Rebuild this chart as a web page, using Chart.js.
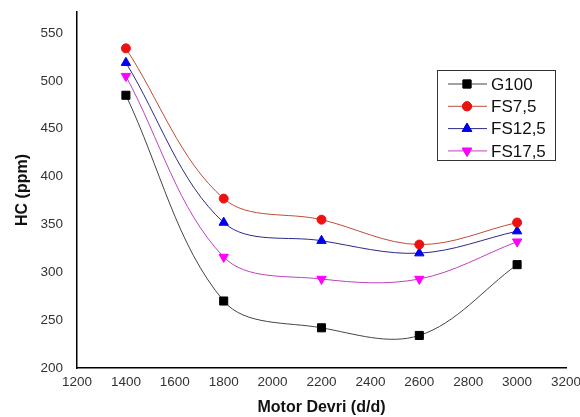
<!DOCTYPE html>
<html>
<head>
<meta charset="utf-8">
<script src="https://cdn.jsdelivr.net/npm/chart.js@4/dist/chart.umd.min.js"></script>
<style>
  html, body { margin: 0; padding: 0; background: #fff; }
</style>
</head>
<body>
<canvas id="hcChart" width="580" height="417"></canvas>
<script>
// motor devri (d/d)
const rpm = [1400, 1800, 2200, 2600, 3000];

// HC (ppm) per fuel
const g100 = [485, 270, 242, 234, 308];
const fs75 = [534, 377, 355, 329, 352];
const fs125 = [519, 352, 333, 320, 343];
const fs175 = [505, 316, 293, 293, 332];

const seriesNames = ['G100', 'FS7,5', 'FS12,5', 'FS17,5'];

const toPts = vals => vals.map((v, i) => ({ x: rpm[i], y: v }));

const fontFam = '"Liberation Sans", Arial, sans-serif';

// legend drawn as a boxed panel inside the plot
const boxLegend = {
    id: 'boxLegend',
    afterDraw(chart) {
        const ctx = chart.ctx;
        const x0 = 437, y0 = 70, w = 118, h = 90;
        ctx.save();
        ctx.fillStyle = '#fff';
        ctx.fillRect(x0, y0, w, h);
        ctx.strokeStyle = '#333';
        ctx.lineWidth = 1;
        ctx.strokeRect(x0 + 0.5, y0 + 0.5, w, h);
        chart.data.datasets.forEach((ds, i) => {
            const cy = 84 + i * 22.3;
            ctx.strokeStyle = ds.borderColor;
            ctx.beginPath();
            ctx.moveTo(448, cy);
            ctx.lineTo(487, cy);
            ctx.stroke();
            Chart.helpers.drawPoint(ctx, {
                pointStyle: ds.pointStyle,
                radius: ds.pointRadius,
                rotation: ds.rotation || 0,
                borderWidth: 1
            }, 467, cy);
            ctx.fillStyle = ds.pointBackgroundColor;
            ctx.strokeStyle = ds.pointBorderColor;
            ctx.fill();
            ctx.stroke();
            ctx.fillStyle = '#111';
            ctx.font = '17px ' + fontFam;
            ctx.textBaseline = 'middle';
            ctx.fillText(ds.label, 491, cy + 1);
        });
        ctx.restore();
    }
};

const ctx = document.getElementById('hcChart').getContext('2d');
new Chart(ctx, {
    type: 'line',
    data: {
        datasets: [
            {
                label: seriesNames[0],
                data: toPts(g100),
                borderColor: '#444444',
                pointStyle: 'rect',
                pointRadius: 5.7,
                pointBackgroundColor: '#000',
                pointBorderColor: '#000'
            },
            {
                label: seriesNames[1],
                data: toPts(fs75),
                borderColor: '#c04a3a',
                pointStyle: 'circle',
                pointRadius: 4.5,
                pointBackgroundColor: '#ee1111',
                pointBorderColor: '#ee1111'
            },
            {
                label: seriesNames[2],
                data: toPts(fs125),
                borderColor: '#2a2a8a',
                pointStyle: 'triangle',
                pointRadius: 5.4,
                pointBackgroundColor: '#0000ee',
                pointBorderColor: '#0000ee'
            },
            {
                label: seriesNames[3],
                data: toPts(fs175),
                borderColor: '#c040c0',
                pointStyle: 'triangle',
                rotation: 180,
                pointRadius: 5.4,
                pointBackgroundColor: '#ff00ff',
                pointBorderColor: '#ff00ff'
            }
        ]
    },
    options: {
        responsive: false,
        animation: false,
        layout: { padding: { top: 12, right: 14, left: 13, bottom: 0 } },
        elements: {
            line: { borderWidth: 1, tension: 0.35, fill: false },
            point: { borderWidth: 1 }
        },
        plugins: {
            legend: { display: false },
            tooltip: { enabled: false }
        },
        scales: {
            x: {
                type: 'linear',
                min: 1200,
                max: 3200,
                afterFit: scale => {
                    scale.height = 49;
                    scale.paddingLeft = 0;
                    scale.paddingRight = 0;
                },
                ticks: {
                    stepSize: 200,
                    color: '#333',
                    padding: 6,
                    maxRotation: 0,
                    callback: v => String(v),
                    font: { family: fontFam, size: 13.5 }
                },
                grid: { display: false, drawTicks: false },
                border: { color: '#000', width: 1.5 },
                title: {
                    display: true,
                    text: 'Motor Devri (d/d)',
                    color: '#111',
                    padding: { top: 6, bottom: 0 },
                    font: { family: fontFam, size: 16, weight: 'bold' }
                }
            },
            y: {
                min: 200,
                max: 572,
                afterBuildTicks: scale => {
                    scale.ticks = scale.ticks.filter(t => t.value % 50 === 0);
                },
                afterFit: scale => {
                    scale.width = 64;
                    scale.paddingTop = 0;
                    scale.paddingBottom = 0;
                },
                ticks: {
                    stepSize: 50,
                    color: '#333',
                    padding: 14,
                    callback: v => String(v),
                    font: { family: fontFam, size: 13.5 }
                },
                grid: { display: false, drawTicks: false },
                border: { color: '#000', width: 1.5 },
                title: {
                    display: true,
                    text: 'HC (ppm)',
                    color: '#111',
                    padding: { top: 0, bottom: 8 },
                    font: { family: fontFam, size: 16, weight: 'bold' }
                }
            }
        }
    },
    plugins: [boxLegend]
});
</script>
</body>
</html>
